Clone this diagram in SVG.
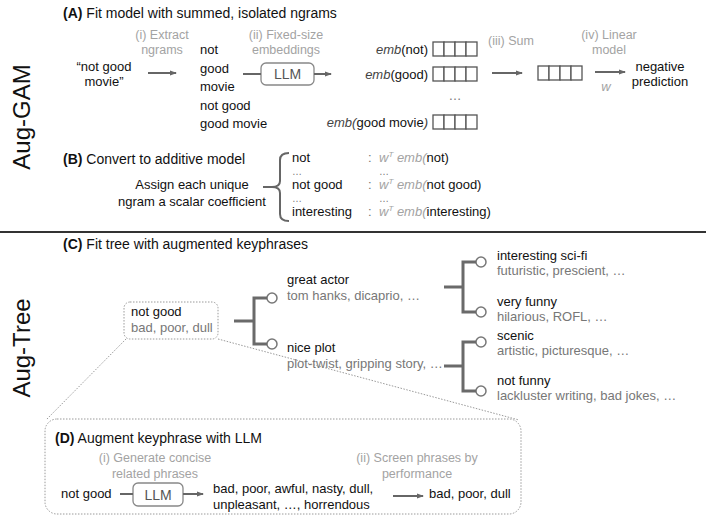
<svg xmlns="http://www.w3.org/2000/svg" width="706" height="520" viewBox="0 0 706 520">
<defs>
<marker id="ah" markerWidth="7" markerHeight="6" refX="6" refY="3" orient="auto" markerUnits="userSpaceOnUse"><path d="M0,0.5 L7,3 L0,5.5 z" fill="#666"/></marker>
</defs>
<style>
text{font-family:"Liberation Sans",Arial,sans-serif;font-size:13px;fill:#111}
.t{font-size:14px}
.b{font-weight:bold}
.g{fill:#a3a3a3;font-size:12.5px}
.gi{fill:#a3a3a3;font-style:italic}
.s{fill:#777}
.el{fill:#777;font-size:10px}
.i{font-style:italic}
.m{text-anchor:middle}
.e{text-anchor:end}
.side{font-size:24px}
.ln{stroke:#666;stroke-width:2;fill:none}
.arr{stroke:#666;stroke-width:2;fill:none;marker-end:url(#ah)}
.tr{stroke:#6a6a6a;stroke-width:3;fill:none}
.cell{fill:#fff;stroke:#555;stroke-width:1.3}
.dot{fill:none;stroke:#9a9a9a;stroke-width:1;stroke-dasharray:1.5 1.5}
.llm{fill:#fff;stroke:#888;stroke-width:1.3}
.circ{fill:#fff;stroke:#777;stroke-width:1.5}
.sep{stroke:#333;stroke-width:2}
.llmt{font-size:14px;fill:#555}
</style>

<!-- side labels & separator -->
<g id="side-labels">
<text class="side m" transform="translate(30,117) rotate(-90)">Aug-GAM</text>
<text class="side m" transform="translate(30,348) rotate(-90)">Aug-Tree</text>
<line class="sep" x1="0" y1="232" x2="706" y2="232"/>
</g>

<!-- Section A -->
<g id="titleA"><text x="63" y="18" class="t"><tspan class="b">(A)</tspan> Fit model with summed, isolated ngrams</text></g>
<g id="input-text">
<text class="m" x="104" y="71">“not good</text>
<text class="m" x="104" y="86">movie”</text>
</g>
<g id="step-extract">
<text class="g m" x="162" y="39">(i) Extract</text>
<text class="g m" x="162" y="54">ngrams</text>
</g>
<g id="ngrams">
<text x="200" y="54">not</text>
<text x="200" y="73">good</text>
<text x="200" y="91">movie</text>
<text x="200" y="110">not good</text>
<text x="200" y="128">good movie</text>
</g>
<g id="step-embed">
<text class="g m" x="286" y="39">(ii) Fixed-size</text>
<text class="g m" x="286" y="54">embeddings</text>
</g>
<g id="llm-A">
<rect class="llm" x="261" y="63" width="53" height="22" rx="5"/>
<text class="llmt m" x="287.5" y="79">LLM</text>
</g>
<g id="embeddings">
<text class="e" x="428" y="54"><tspan class="i" fill="#444">emb</tspan>(not)</text>
<text class="e" x="428" y="79"><tspan class="i" fill="#444">emb</tspan>(good)</text>
<text class="s m" x="455" y="100">…</text>
<text class="e" x="428" y="127"><tspan class="i" fill="#444">emb(</tspan>good movie<tspan class="i" fill="#444">)</tspan></text>
<g id="emb-cells">
<rect class="cell" x="433" y="42" width="11" height="14"/><rect class="cell" x="444" y="42" width="11" height="14"/><rect class="cell" x="455" y="42" width="11" height="14"/><rect class="cell" x="466" y="42" width="11" height="14"/>
<rect class="cell" x="433" y="67" width="11" height="14"/><rect class="cell" x="444" y="67" width="11" height="14"/><rect class="cell" x="455" y="67" width="11" height="14"/><rect class="cell" x="466" y="67" width="11" height="14"/>
<rect class="cell" x="433" y="115" width="11" height="14"/><rect class="cell" x="444" y="115" width="11" height="14"/><rect class="cell" x="455" y="115" width="11" height="14"/><rect class="cell" x="466" y="115" width="11" height="14"/>
</g>
</g>
<g id="step-sum"><text class="g m" x="511" y="45">(iii) Sum</text></g>
<g id="sum-vector">
<rect class="cell" x="538" y="66" width="11" height="14"/><rect class="cell" x="549" y="66" width="11" height="14"/><rect class="cell" x="560" y="66" width="11" height="14"/><rect class="cell" x="571" y="66" width="11" height="14"/>
</g>
<g id="step-linear">
<text class="g m" x="609" y="39">(iv) Linear</text>
<text class="g m" x="609" y="54">model</text>
<text class="gi m" x="606" y="91">w</text>
</g>
<g id="prediction">
<text class="m" x="660" y="71">negative</text>
<text class="m" x="660" y="86">prediction</text>
</g>

<!-- Section B -->
<g id="titleB"><text x="63" y="164" class="t"><tspan class="b">(B)</tspan> Convert to additive model</text></g>
<g id="assign">
<text class="m" x="192" y="189">Assign each unique</text>
<text class="m" x="192" y="206">ngram a scalar coefficient</text>
</g>
<g id="additive-terms">
<text x="292" y="162">not</text>
<text class="el" x="292" y="175">…</text>
<text x="292" y="189">not good</text>
<text class="el" x="292" y="202">…</text>
<text x="292" y="216">interesting</text>
<text class="s" x="368" y="162">:</text>
<text class="s" x="368" y="189">:</text>
<text class="s" x="368" y="216">:</text>
<text x="379" y="162"><tspan class="gi">w</tspan><tspan class="gi" font-size="8" dy="-5">T</tspan><tspan class="gi" dy="5"> emb(</tspan>not)</text>
<text class="el" x="379" y="175">…</text>
<text x="379" y="189"><tspan class="gi">w</tspan><tspan class="gi" font-size="8" dy="-5">T</tspan><tspan class="gi" dy="5"> emb(</tspan>not good)</text>
<text class="el" x="379" y="202">…</text>
<text x="379" y="216"><tspan class="gi">w</tspan><tspan class="gi" font-size="8" dy="-5">T</tspan><tspan class="gi" dy="5"> emb(</tspan>interesting)</text>
</g>

<!-- Section C -->
<g id="titleC"><text x="63" y="249" class="t"><tspan class="b">(C)</tspan> Fit tree with augmented keyphrases</text></g>
<g id="node-not-good">
<rect class="dot" x="124" y="302" width="94" height="37" rx="6"/>
<text x="131" y="316">not good</text>
<text class="s" x="131" y="332">bad, poor, dull</text>
</g>
<g id="node-great-actor">
<circle class="circ" cx="272" cy="298" r="5"/>
<text x="287" y="284">great actor</text>
<text class="s" x="287" y="300">tom hanks, dicaprio, …</text>
</g>
<g id="node-nice-plot">
<circle class="circ" cx="272" cy="344" r="5"/>
<text x="287" y="352">nice plot</text>
<text class="s" x="287" y="368">plot-twist, gripping story, …</text>
</g>
<g id="node-scifi">
<circle class="circ" cx="481" cy="262" r="5"/>
<text x="497" y="260">interesting sci-fi</text>
<text class="s" x="497" y="275">futuristic, prescient, …</text>
</g>
<g id="node-very-funny">
<circle class="circ" cx="481" cy="312" r="5"/>
<text x="497" y="306">very funny</text>
<text class="s" x="497" y="321">hilarious, ROFL, …</text>
</g>
<g id="node-scenic">
<circle class="circ" cx="481" cy="342" r="5"/>
<text x="497" y="340">scenic</text>
<text class="s" x="497" y="355">artistic, picturesque, …</text>
</g>
<g id="node-not-funny">
<circle class="circ" cx="481" cy="391" r="5"/>
<text x="497" y="385">not funny</text>
<text class="s" x="497" y="400">lackluster writing, bad jokes, …</text>
</g>

<!-- Section D -->
<g id="panelD">
<rect class="dot" x="45" y="419" width="476" height="95" rx="12"/>
<text x="55" y="443" class="t"><tspan class="b">(D)</tspan> Augment keyphrase with LLM</text>
<text class="g m" x="155" y="462">(i) Generate concise</text>
<text class="g m" x="155" y="478">related phrases</text>
<text class="g m" x="417" y="462">(ii) Screen phrases by</text>
<text class="g m" x="417" y="478">performance</text>
</g>
<g id="d-input"><text x="61" y="498">not good</text></g>
<g id="llm-D">
<rect class="llm" x="133" y="483" width="50" height="23" rx="5"/>
<text class="llmt m" x="158" y="499.5">LLM</text>
</g>
<g id="d-generated">
<text x="213" y="493">bad, poor, awful, nasty, dull,</text>
<text x="213" y="509">unpleasant, …, horrendous</text>
</g>
<g id="d-screened"><text x="429" y="498">bad, poor, dull</text></g>

<!-- connectors -->
<g id="connectors">
<line class="arr" x1="148" y1="73" x2="176" y2="73"/>
<line class="ln" x1="243" y1="74" x2="261" y2="74"/>
<line class="arr" x1="314" y1="74" x2="331" y2="74"/>
<line class="arr" x1="492" y1="73" x2="522" y2="73"/>
<line class="arr" x1="595" y1="72" x2="625" y2="72"/>
<path class="ln" d="M289,153 Q280,153 280,160 L280,181 Q280,187 272,187 Q280,187 280,193 L280,214 Q280,221 289,221 M263,187 L272,187"/>
<path class="tr" d="M234,321 H254 M267,298 H254 V344 H267"/>
<path class="tr" d="M444,287 H463 M476,262 H463 V312 H476"/>
<path class="tr" d="M444,366 H463 M476,342 H463 V391 H476"/>
<line class="dot" x1="126" y1="339" x2="46" y2="420"/>
<line class="dot" x1="218" y1="339" x2="519" y2="420"/>
<line class="ln" x1="120" y1="494" x2="133" y2="494"/>
<line class="arr" x1="183" y1="494" x2="203" y2="494"/>
<line class="arr" x1="393" y1="496" x2="423" y2="496"/>
</g>
</svg>
